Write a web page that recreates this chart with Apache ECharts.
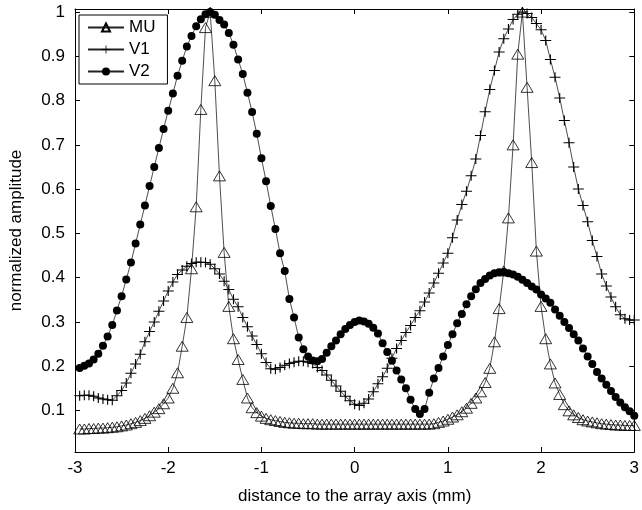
<!DOCTYPE html>
<html>
<head>
<meta charset="utf-8">
<script src="https://cdn.jsdelivr.net/npm/echarts@6/dist/echarts.min.js"></script>
<style>
  html, body { margin: 0; padding: 0; background: #fff; }
  #chart { width: 642px; height: 510px; }
</style>
</head>
<body>
<div id="chart"></div>
<script>
// sample positions along the axis (mm)
var xs = [-2.95,-2.9,-2.85,-2.8,-2.75,-2.7,-2.65,-2.6,-2.55,-2.5,
  -2.45,-2.4,-2.35,-2.3,-2.25,-2.2,-2.15,-2.1,-2.05,-2,
  -1.95,-1.9,-1.85,-1.8,-1.75,-1.7,-1.65,-1.6,-1.55,-1.5,
  -1.45,-1.4,-1.35,-1.3,-1.25,-1.2,-1.15,-1.1,-1.05,-1,
  -0.95,-0.9,-0.85,-0.8,-0.75,-0.7,-0.65,-0.6,-0.55,-0.5,
  -0.45,-0.4,-0.35,-0.3,-0.25,-0.2,-0.15,-0.1,-0.05,0,
  0.05,0.1,0.15,0.2,0.25,0.3,0.35,0.4,0.45,0.5,
  0.55,0.6,0.65,0.7,0.75,0.8,0.85,0.9,0.95,1,
  1.05,1.1,1.15,1.2,1.25,1.3,1.35,1.4,1.45,1.5,
  1.55,1.6,1.65,1.7,1.75,1.8,1.85,1.9,1.95,2,
  2.05,2.1,2.15,2.2,2.25,2.3,2.35,2.4,2.45,2.5,
  2.55,2.6,2.65,2.7,2.75,2.8,2.85,2.9,2.95,3];

var mu = [0.058,0.058,0.059,0.059,0.060,0.060,0.061,0.062,0.063,0.065,
  0.067,0.070,0.073,0.077,0.082,0.088,0.096,0.104,0.115,0.128,
  0.150,0.185,0.245,0.310,0.420,0.560,0.780,0.965,1.000,0.845,
  0.630,0.457,0.335,0.262,0.215,0.170,0.128,0.106,0.095,0.087,
  0.082,0.079,0.077,0.075,0.073,0.072,0.071,0.071,0.070,0.070,
  0.070,0.069,0.069,0.069,0.069,0.069,0.069,0.069,0.069,0.069,
  0.069,0.069,0.069,0.069,0.069,0.069,0.069,0.069,0.069,0.069,
  0.069,0.069,0.069,0.069,0.069,0.069,0.070,0.073,0.076,0.080,
  0.085,0.090,0.097,0.105,0.116,0.128,0.142,0.163,0.195,0.255,
  0.330,0.415,0.535,0.700,0.905,1.000,0.830,0.660,0.460,0.335,
  0.262,0.205,0.162,0.136,0.113,0.099,0.090,0.084,0.079,0.076,
  0.074,0.072,0.070,0.069,0.068,0.067,0.067,0.066,0.066,0.066];

var v1 = [0.133,0.134,0.134,0.132,0.128,0.126,0.124,0.123,0.133,0.145,
  0.162,0.184,0.205,0.227,0.255,0.278,0.300,0.324,0.347,0.370,
  0.390,0.407,0.417,0.426,0.432,0.435,0.435,0.434,0.430,0.420,
  0.408,0.392,0.373,0.351,0.334,0.310,0.289,0.268,0.249,0.228,
  0.208,0.194,0.193,0.197,0.202,0.206,0.209,0.211,0.211,0.209,
  0.206,0.197,0.190,0.180,0.168,0.155,0.143,0.132,0.122,0.114,
  0.111,0.116,0.126,0.142,0.160,0.176,0.195,0.218,0.240,0.258,
  0.276,0.292,0.310,0.325,0.345,0.365,0.388,0.410,0.433,0.455,
  0.490,0.530,0.565,0.595,0.630,0.668,0.721,0.775,0.825,0.868,
  0.910,0.940,0.962,0.983,0.995,1.000,0.997,0.988,0.974,0.960,
  0.936,0.893,0.853,0.806,0.755,0.705,0.650,0.600,0.563,0.526,
  0.484,0.448,0.408,0.381,0.356,0.334,0.316,0.307,0.304,0.304];

var v2 = [0.196,0.201,0.206,0.215,0.228,0.246,0.267,0.293,0.326,0.358,
  0.396,0.434,0.477,0.520,0.563,0.607,0.650,0.693,0.736,0.777,
  0.816,0.856,0.890,0.922,0.946,0.968,0.984,0.995,1.000,0.994,
  0.982,0.972,0.953,0.926,0.893,0.860,0.818,0.774,0.725,0.670,
  0.618,0.562,0.510,0.455,0.415,0.352,0.310,0.265,0.238,0.222,
  0.213,0.211,0.216,0.230,0.245,0.258,0.272,0.284,0.293,0.300,
  0.303,0.301,0.296,0.287,0.274,0.252,0.232,0.212,0.190,0.170,
  0.150,0.124,0.103,0.092,0.103,0.140,0.172,0.196,0.222,0.248,
  0.272,0.297,0.318,0.340,0.358,0.374,0.388,0.397,0.405,0.410,
  0.412,0.413,0.410,0.407,0.402,0.395,0.388,0.380,0.373,0.362,
  0.353,0.343,0.328,0.314,0.300,0.286,0.272,0.258,0.240,0.222,
  0.205,0.187,0.172,0.158,0.144,0.130,0.118,0.107,0.098,0.088];

var yTicks = [0.1, 0.2, 0.3, 0.4, 0.5, 0.6, 0.7, 0.8, 0.9, 1];

function pairs(ys) {
  return xs.map(function (x, i) { return [x, ys[i]]; });
}

var font = '"Liberation Sans", Arial, Helvetica, sans-serif';
var plusPath = 'path://M4.5,0h1v10h-1zM0,4.5h10v1h-10z';

var myChart = echarts.init(document.getElementById('chart'));
myChart.setOption({
  animation: false,
  backgroundColor: '#fff',
  textStyle: { fontFamily: font, color: '#000' },
  grid: { left: 73, right: 5, top: 9, bottom: 53, containLabel: false },
  legend: {
    orient: 'vertical',
    left: 79,
    top: 15,
    itemWidth: 36,
    itemHeight: 10,
    itemGap: 5,
    padding: [4, 12, 4, 8],
    borderColor: '#000',
    borderWidth: 1,
    backgroundColor: '#fff',
    textStyle: { fontFamily: font, fontSize: 17, color: '#000' },
    data: ['MU', 'V1', 'V2']
  },
  xAxis: [{
    type: 'value',
    min: -3, max: 3, interval: 1,
    name: 'distance to the array axis (mm)',
    nameLocation: 'middle',
    nameGap: 36,
    nameTextStyle: { fontFamily: font, fontSize: 17, color: '#000' },
    axisLine: { onZero: false, lineStyle: { color: '#000', width: 1 } },
    axisTick: { inside: true, length: 5, lineStyle: { color: '#000' } },
    axisLabel: { margin: 8, fontSize: 17, color: '#000', fontFamily: font },
    splitLine: { show: false }
  }, {
    type: 'value',
    position: 'top',
    min: -3, max: 3, interval: 1,
    axisLine: { onZero: false, lineStyle: { color: '#000', width: 1 } },
    axisTick: { inside: true, length: 5, lineStyle: { color: '#000' } },
    axisLabel: { show: false },
    splitLine: { show: false }
  }],
  yAxis: [{
    type: 'value',
    min: 0.006, max: 1.007,
    name: 'normalized amplitude',
    nameLocation: 'middle',
    nameGap: 50,
    nameTextStyle: { fontFamily: font, fontSize: 17, color: '#000' },
    axisLine: { show: true, onZero: false, lineStyle: { color: '#000', width: 1 } },
    axisTick: { inside: true, length: 5, customValues: yTicks, lineStyle: { color: '#000' } },
    axisLabel: {
      margin: 10, fontSize: 17, color: '#000', fontFamily: font,
      customValues: yTicks,
      formatter: function (v) { return String(+(+v).toFixed(1)); }
    },
    splitLine: { show: false }
  }, {
    type: 'value',
    position: 'right',
    min: 0.006, max: 1.007,
    axisLine: { show: true, onZero: false, lineStyle: { color: '#000', width: 1 } },
    axisTick: { inside: true, length: 5, customValues: yTicks, lineStyle: { color: '#000' } },
    axisLabel: { show: false, customValues: yTicks },
    splitLine: { show: false }
  }],
  series: [{
    name: 'MU',
    type: 'line',
    data: pairs(mu),
    symbol: 'triangle',
    symbolSize: [12, 10],
    showAllSymbol: true,
    lineStyle: { color: '#222', width: 0.8 },
    itemStyle: { color: 'rgba(255,255,255,0)', borderColor: '#000', borderWidth: 0.8 },
    z: 3
  }, {
    name: 'V1',
    type: 'line',
    data: pairs(v1),
    symbol: plusPath,
    symbolSize: [11, 10],
    showAllSymbol: true,
    lineStyle: { color: '#222', width: 0.8 },
    itemStyle: { color: '#000' },
    z: 2
  }, {
    name: 'V2',
    type: 'line',
    data: pairs(v2),
    symbol: 'circle',
    symbolSize: 8,
    showAllSymbol: true,
    lineStyle: { color: '#222', width: 0.8 },
    itemStyle: { color: '#000' },
    z: 4
  }]
});
</script>
</body>
</html>
